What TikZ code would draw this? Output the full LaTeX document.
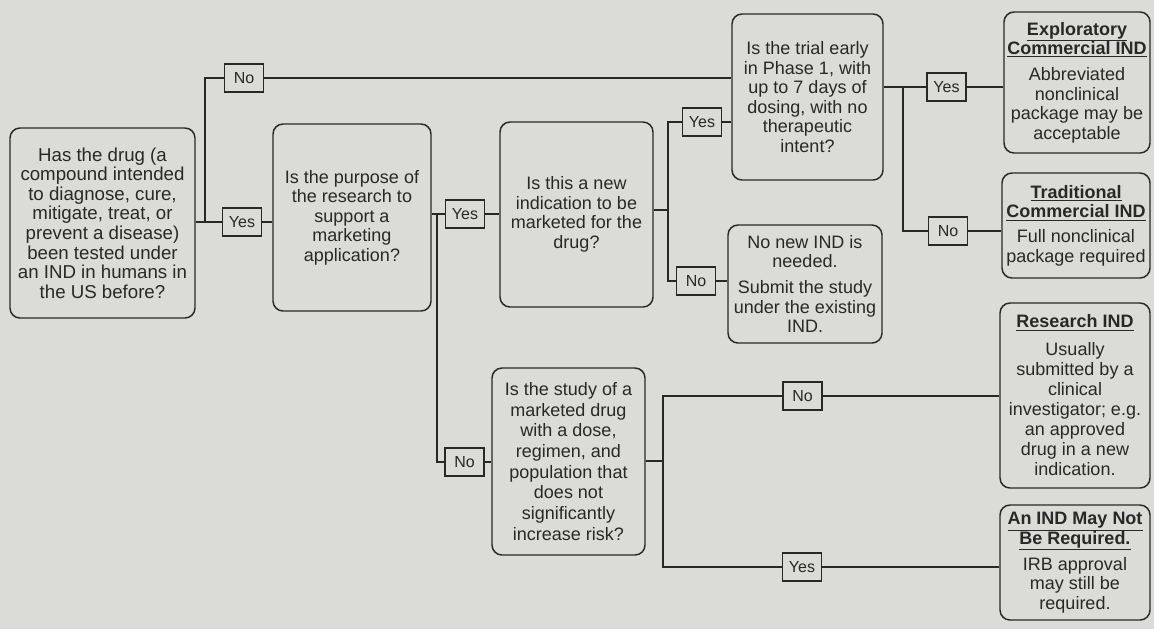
\documentclass[tikz,border=0pt]{standalone}
\usepackage{fontspec}
\setmainfont{Liberation Sans}
\usepackage{tikz}
\tikzset{every picture/.style={line width=0.75pt}}
\definecolor{inkgray}{RGB}{40,40,40}
\definecolor{papergray}{RGB}{219,219,216}
\tikzset{
	qbox/.style={draw=inkgray, rounded corners=7.5pt, line width=1.1pt, align=center, inner sep=2pt, text=inkgray, font=\fontsize{13.5}{14.6}\selectfont},
	tagbox/.style={draw=inkgray, line width=1.1pt, minimum width=29pt, minimum height=21pt, inner sep=2pt, text=inkgray, font=\fontsize{12}{13}\selectfont},
	link/.style={draw=inkgray, line width=0.9pt}
}
\newcommand{\hd}[1]{\underline{\textbf{#1}}}

\begin{document}
\begin{tikzpicture}[x=0.75pt,y=0.75pt,yscale=-1,xscale=1]
	\fill [papergray] (0,0) rectangle (1154,629);
	\useasboundingbox (0,0) rectangle (1154,629);
	
	%Shape: Rounded Rect (questions)
	\node [qbox, minimum width=138.75pt, minimum height=142.5pt, font=\fontsize{14}{14.7}\selectfont] (drug) at (102.5,223) {Has the drug (a\\compound intended\\to diagnose, cure,\\mitigate, treat, or\\prevent a disease)\\been tested under\\an IND in humans in\\the US before?};
	\node [qbox, minimum width=118.5pt, minimum height=140.25pt] (purpose) at (352,217.5) {Is the purpose of\\the research to\\support a\\marketing\\application?};
	\node [qbox, minimum width=114.75pt, minimum height=138.75pt] (newind) at (576.5,214.5) {Is this a new\\indication to be\\marketed for the\\drug?};
	\node [qbox, minimum width=113.25pt, minimum height=124.5pt] (phase) at (807.5,97) {Is the trial early\\in Phase 1, with\\up to 7 days of\\dosing, with no\\therapeutic\\intent?};
	\node [qbox, minimum width=115.5pt, minimum height=88.5pt] (noneed) at (805,284) {No new IND is\\needed.\\[5pt]Submit the study\\under the existing\\IND.};
	\node [qbox, minimum width=114.75pt, minimum height=140.25pt, font=\fontsize{13.5}{15.5}\selectfont] (marketed) at (568.5,461.5) {Is the study of a\\marketed drug\\with a dose,\\regimen, and\\population that\\does not\\significantly\\increase risk?};
	
	%Shape: Rounded Rect (outcomes)
	\node [qbox, minimum width=109.5pt, minimum height=105.75pt] (expl) at (1077,82.5) {\hd{Exploratory}\\\hd{Commercial IND}\\[5pt]Abbreviated\\nonclinical\\package may be\\acceptable};
	\node [qbox, minimum width=111pt, minimum height=78.75pt] (trad) at (1076,225.5) {\hd{Traditional}\\\hd{Commercial IND}\\[4pt]Full nonclinical\\package required};
	\node [qbox, minimum width=112.5pt, minimum height=138.75pt, font=\fontsize{13.5}{15}\selectfont] (resind) at (1075,395.5) {\hd{Research IND}\\[6pt]Usually\\submitted by a\\clinical\\investigator; e.g.\\an approved\\drug in a new\\indication.};
	\node [qbox, minimum width=112.5pt, minimum height=86.25pt] (notreq) at (1075,562.5) {\hd{An IND May Not}\\\hd{Be Required.}\\[5pt]IRB approval\\may still be\\required.};
	
	%Shape: Rectangle (answers)
	\node [tagbox] (no1) at (244,78) {No};
	\node [tagbox] (yes1) at (242,222) {Yes};
	\node [tagbox] (yes2) at (465,214) {Yes};
	\node [tagbox] (no2) at (464.5,462) {No};
	\node [tagbox] (yes3) at (702,122) {Yes};
	\node [tagbox] (no3) at (696,281) {No};
	\node [tagbox] (yes4) at (946.5,87) {Yes};
	\node [tagbox] (no4) at (948,231) {No};
	\node [tagbox] (no5) at (802.5,396) {No};
	\node [tagbox] (yes5) at (802,567) {Yes};
	
	\coordinate (j1) at (205,222);
	\coordinate (j2) at (437,214);
	\coordinate (j3) at (668,210);
	\coordinate (j4) at (903,87);
	\coordinate (j5) at (663,461);
	
	\draw [link] (drug.east |- j1) -- (yes1.west);
	\draw [link] (j1) |- (no1.west);
	\draw [link] (no1.east) -- (no1.east -| phase.west);
	\draw [link] (yes1.east) -- (yes1.east -| purpose.west);
	
	\draw [link] (purpose.east |- j2) -- (yes2.west);
	\draw [link] (j2) |- (no2.west);
	\draw [link] (yes2.east) -- (yes2.east -| newind.west);
	\draw [link] (no2.east) -- (no2.east -| marketed.west);
	
	\draw [link] (newind.east |- j3) -- (j3);
	\draw [link] (yes3.west) -| (j3) |- (no3.west);
	\draw [link] (yes3.east) -- (yes3.east -| phase.west);
	\draw [link] (no3.east) -- (no3.east -| noneed.west);
	
	\draw [link] (phase.east |- j4) -- (yes4.west);
	\draw [link] (j4) |- (no4.west);
	\draw [link] (yes4.east) -- (yes4.east -| expl.west);
	\draw [link] (no4.east) -- (no4.east -| trad.west);
	
	\draw [link] (marketed.east |- j5) -- (j5);
	\draw [link] (no5.west) -| (j5) |- (yes5.west);
	\draw [link] (no5.east) -- (no5.east -| resind.west);
	\draw [link] (yes5.east) -- (yes5.east -| notreq.west);
\end{tikzpicture}
\end{document}
